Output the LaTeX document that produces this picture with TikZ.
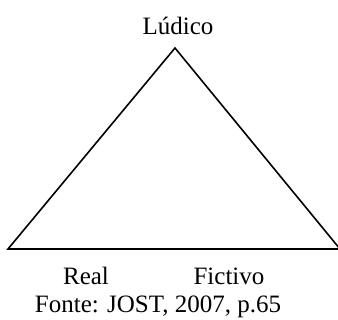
\documentclass[tikz,border=0pt]{standalone}
\usepackage{fontspec}
\setmainfont{Liberation Serif}
\begin{document}
\begin{tikzpicture}[x=1pt,y=-1pt,
  lbl/.style={anchor=base,inner sep=0pt,font=\fontsize{25}{30}\selectfont}]
\useasboundingbox (0,0) rectangle (338,320);
\coordinate (L) at (8,249);
\coordinate (A) at (175,48);
\coordinate (R) at (340,249);
\draw[line width=1.6pt,line join=miter] (L) -- (A) -- (R) -- cycle;
\node[lbl] (ludico) at (178,35) {Lúdico};
\node[lbl] (real) at (86,285) {Real};
\node[lbl] (fictivo) at (229,285) {Fictivo};
\node[lbl] (fonte) at (158,313) {Fonte: JOST, 2007, p.65};
\end{tikzpicture}
\end{document}
